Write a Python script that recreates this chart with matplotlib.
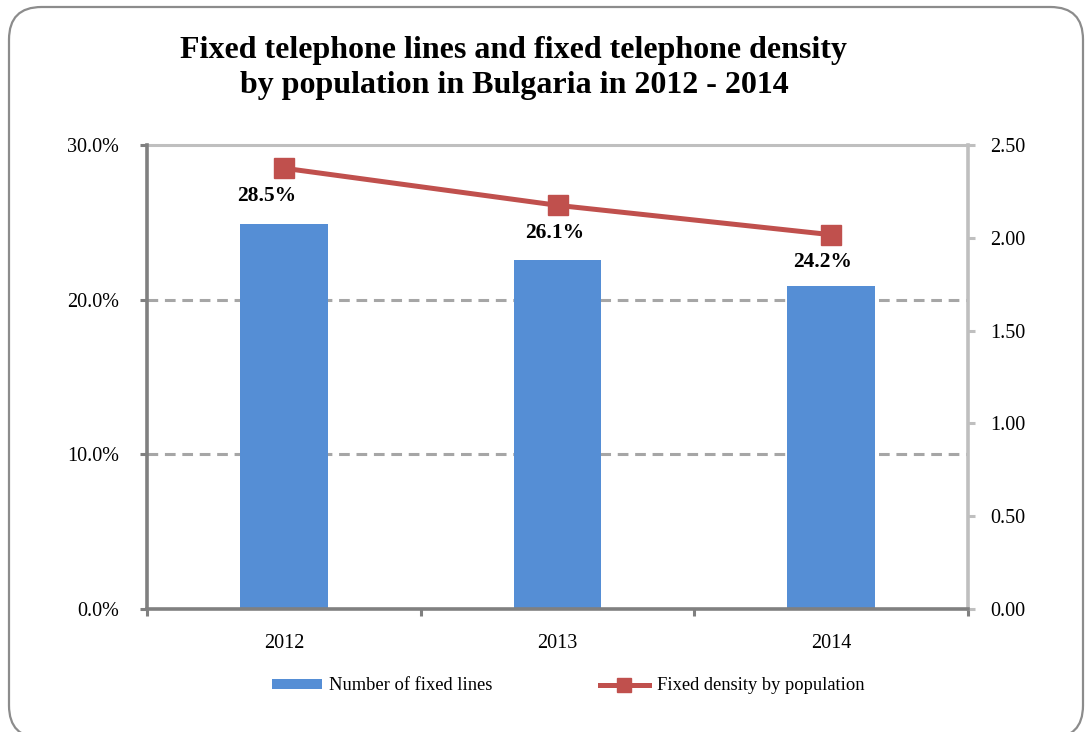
import numpy as np
import matplotlib
matplotlib.use("Agg")
import matplotlib.pyplot as plt
from matplotlib.patches import FancyBboxPatch
from matplotlib.ticker import FuncFormatter, FixedLocator

plt.rcParams['font.family'] = ['Liberation Serif', 'DejaVu Serif']

years = ['2012', '2013', '2014']
fixed_lines = [2.074, 1.880, 1.740]      # millions of lines (right axis)
density_pct = [28.5, 26.1, 24.2]         # % of population (left axis)
pct_ticks = [0, 10, 20, 30]
line_ticks = [0.0, 0.5, 1.0, 1.5, 2.0, 2.5]

BAR = '#558ED5'
RED = '#C0504D'
DARK = '#808080'
LIGHT = '#BFBFBF'

W, H = 1085, 732
fig = plt.figure(figsize=(W / 100, H / 100), dpi=100)

# rounded frame around the whole chart
frame = FancyBboxPatch((9 / W, -6 / H), 1074 / W, 731 / H,
                       boxstyle="round,pad=0,rounding_size=0.03",
                       transform=fig.transFigure, fill=False,
                       edgecolor='#8C8C8C', lw=1.6, mutation_aspect=W / H)
fig.patches.append(frame)

fig.text(514 / W, 1 - 68 / H,
         "Fixed telephone lines and fixed telephone density\nby population in Bulgaria in 2012 - 2014",
         ha='center', va='center', fontsize=23, fontweight='bold', linespacing=1.3)

rect = [147 / W, 1 - 609 / H, 821 / W, 464 / H]
ax_b = fig.add_axes(rect)          # bars, value axis on the right
ax_l = ax_b.twinx()                # density line, value axis on the left
ax_l.set_zorder(ax_b.get_zorder() + 1)
ax_l.patch.set_visible(False)

x = np.arange(len(years))

ax_l.set_ylim(0, 30)
ax_b.set_ylim(0, 2.5)
ax_b.set_xlim(-0.5, 2.5)

# dashed gridlines at the percent ticks, kept behind the bars
ax_b.hlines([t for t in pct_ticks if 0 < t < 30], 0, 1,
            transform=ax_l.get_yaxis_transform(),
            colors='#A6A6A6', lw=2.2, linestyles=(0, (3.5, 2.2)), zorder=0)

bars = ax_b.bar(x, fixed_lines, width=0.32, color=BAR, zorder=2,
                label='Number of fixed lines')

line, = ax_l.plot(x, density_pct, color=RED, lw=3.6, marker='s', ms=14.5,
                  label='Fixed density by population', zorder=3)
label_dx = [-12, -2, -6]
for xi, v, dx in zip(x, density_pct, label_dx):
    ax_l.annotate(f"{v:.1f}%", (xi, v), xytext=(dx, -20), textcoords='offset points',
                  ha='center', va='center', fontsize=15.5, fontweight='bold')

# the left (percent) axis lives on ax_l, the right axis on ax_b
ax_l.yaxis.tick_left()
ax_l.yaxis.set_label_position('left')
ax_b.yaxis.tick_right()

ax_l.yaxis.set_major_locator(FixedLocator(pct_ticks))
ax_l.yaxis.set_major_formatter(FuncFormatter(lambda v, p: f"{v:.1f}%"))
ax_b.yaxis.set_major_locator(FixedLocator(line_ticks))
ax_b.yaxis.set_major_formatter(FuncFormatter(lambda v, p: f"{v:.2f}"))

ax_b.set_xticks(x)
ax_b.set_xticklabels(years)
ax_b.set_xticks([-0.5, 0.5, 1.5, 2.5], minor=True)

ax_l.tick_params(axis='y', direction='out', length=5, width=2.2, color=DARK,
                 labelsize=14.5, pad=15)
ax_b.tick_params(axis='y', which='major', direction='out', length=5, width=2.2,
                 color=LIGHT, labelsize=14.5, pad=11)
ax_b.tick_params(axis='x', which='major', length=0, labelsize=14.5, pad=18)
ax_b.tick_params(axis='x', which='minor', direction='out', length=5, width=2.2,
                 color=DARK)

for a in (ax_b, ax_l):
    for s in a.spines.values():
        s.set_visible(False)
ax_l.spines['left'].set_visible(True)
ax_l.spines['left'].set_color(DARK)
ax_l.spines['left'].set_linewidth(2.6)
ax_b.spines['bottom'].set_visible(True)
ax_b.spines['bottom'].set_color(DARK)
ax_b.spines['bottom'].set_linewidth(2.6)
ax_b.spines['right'].set_visible(True)
ax_b.spines['right'].set_color(LIGHT)
ax_b.spines['right'].set_linewidth(2.6)
ax_b.spines['top'].set_visible(True)
ax_b.spines['top'].set_color(LIGHT)
ax_b.spines['top'].set_linewidth(2.2)

fig.legend(handles=[bars, line], loc='center', bbox_to_anchor=(568 / W, 1 - 686 / H),
           ncol=2, frameon=False, fontsize=13.3, handlelength=2.7, handleheight=0.45,
           handletextpad=0.4, columnspacing=5.8, markerscale=0.7)

fig.savefig('out.png', dpi=100)
